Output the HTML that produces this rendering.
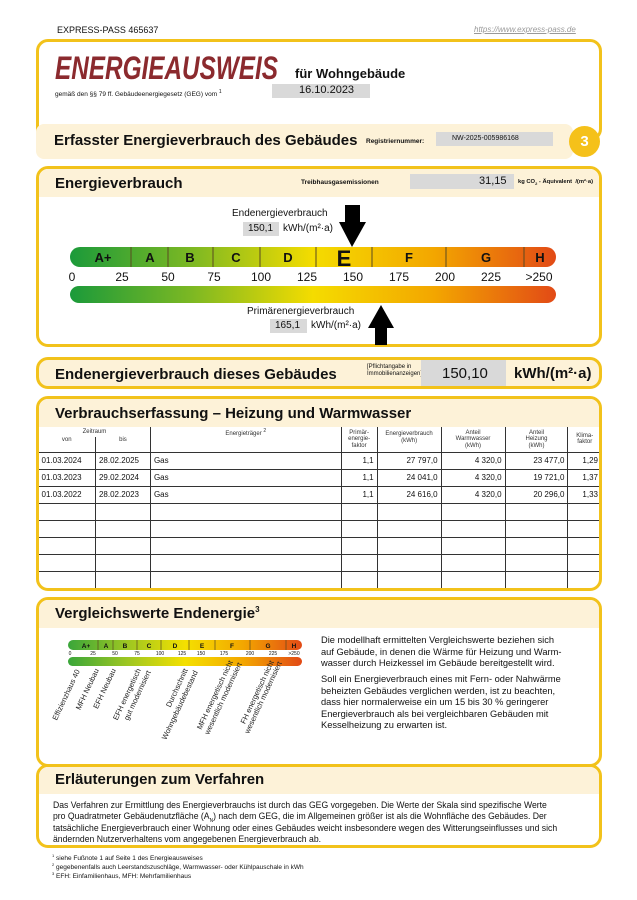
<!DOCTYPE html>
<html><head><meta charset="utf-8">
<style>
*{margin:0;padding:0;box-sizing:border-box}
body{width:637px;height:900px;background:#fff;position:relative;font-family:"Liberation Sans",Arial,sans-serif;color:#111;overflow:hidden}
.a{position:absolute;white-space:nowrap}
.box{position:absolute;border:3px solid #f2c21b;border-radius:12px;background:#fff;overflow:hidden}
.band{position:absolute;left:0;right:0;top:0;background:#fdf2d8}
.grey{position:absolute;background:#d9d9d9}
.h{font-weight:bold;font-size:15px}
sup,sub{line-height:0}
table{border-collapse:collapse;position:absolute;left:0;font-size:8px}
td{border:1px solid #333;padding:0 3px}
</style></head><body>
<div class="a" style="left:57px;top:25px;font-size:9px">EXPRESS-PASS 465637</div>
<div class="a" style="left:474px;top:25px;font-size:8px;color:#999;font-style:italic;text-decoration:underline">https://www.express-pass.de</div>

<div class="box" style="left:36px;top:39px;width:566px;height:102px">
 <div class="a" style="left:16px;top:8px;font-size:32px;font-weight:bold;font-style:italic;color:#8b2a2e;transform:scaleX(0.76);transform-origin:0 0">ENERGIEAUSWEIS</div>
 <div class="a" style="left:256px;top:24px;font-size:13px;font-weight:bold">für Wohngebäude</div>
 <div class="a" style="left:16px;top:49px;font-size:6.5px">gemäß den §§ 79 ff. Gebäudeenergiegesetz (GEG) vom <sup style="font-size:5px">1</sup></div>
 <div class="grey" style="left:233px;top:42px;width:98px;height:14px"></div>
 <div class="a" style="left:260px;top:42px;font-size:11px">16.10.2023</div>
</div>

<div class="a" style="left:36px;top:124px;width:537px;height:35px;background:#fdf2d8;border-radius:8px"></div>
<div class="a h" style="left:54px;top:132px;font-size:15px">Erfasster Energieverbrauch des Gebäudes</div>
<div class="a" style="left:366px;top:138px;font-size:6.5px;font-weight:bold">Registriernummer:</div>
<div class="grey" style="left:436px;top:132px;width:117px;height:14px"></div>
<div class="a" style="left:452px;top:135px;font-size:7px">NW-2025-005986168</div>
<div class="a" style="left:569px;top:126px;width:31px;height:31px;border-radius:50%;background:#f5c11a;color:#fff;font-weight:bold;font-size:15px;text-align:center;line-height:31px">3</div>

<div class="box" style="left:36px;top:166px;width:566px;height:181px">
 <div class="band" style="height:28px"></div>
 <div class="a h" style="left:16px;top:6px;font-size:15px">Energieverbrauch</div>
 <div class="a" style="left:262px;top:10px;font-size:6.5px;font-weight:bold">Treibhausgasemissionen</div>
 <div class="grey" style="left:371px;top:5px;width:104px;height:15px"></div>
 <div class="a" style="left:440px;top:6px;font-size:11px">31,15</div>
 <div class="a" style="left:479px;top:10px;font-size:5.8px;font-weight:bold">kg CO<sub style="font-size:4px">2</sub> - Äquivalent &nbsp;/(m²·a)</div>
</div>
<svg class="a" style="left:0;top:0" width="637" height="360">
<defs>
<linearGradient id="g" x1="0" x2="1">
<stop offset="0" stop-color="#1b9a3a"/><stop offset="0.25" stop-color="#7cb823"/><stop offset="0.5" stop-color="#f4dc00"/><stop offset="0.75" stop-color="#f3a600"/><stop offset="1" stop-color="#e24a16"/>
</linearGradient>
</defs>
<rect x="70" y="247" width="486" height="20" rx="10" fill="url(#g)"/>
<rect x="70" y="286" width="486" height="17" rx="9" fill="url(#g)"/>
<g stroke="#5a4a20" stroke-width="1">
<line x1="131" y1="247" x2="131" y2="267"/><line x1="168" y1="247" x2="168" y2="267"/><line x1="213" y1="247" x2="213" y2="267"/><line x1="260" y1="247" x2="260" y2="267"/><line x1="316" y1="247" x2="316" y2="267"/><line x1="372" y1="247" x2="372" y2="267"/><line x1="446" y1="247" x2="446" y2="267"/><line x1="524" y1="247" x2="524" y2="267"/>
</g>
<g font-family="Liberation Sans" font-weight="bold" font-size="13" text-anchor="middle" fill="#111">
<text x="103" y="262">A+</text><text x="150" y="262">A</text><text x="190" y="262">B</text><text x="236" y="262">C</text><text x="288" y="262">D</text><text x="344" y="266" font-size="22">E</text><text x="409" y="262">F</text><text x="486" y="262">G</text><text x="540" y="262">H</text>
</g>
<g font-family="Liberation Sans" font-size="12" text-anchor="middle" fill="#111">
<text x="72" y="281">0</text><text x="122" y="281">25</text><text x="168" y="281">50</text><text x="214" y="281">75</text><text x="261" y="281">100</text><text x="307" y="281">125</text><text x="353" y="281">150</text><text x="399" y="281">175</text><text x="445" y="281">200</text><text x="491" y="281">225</text><text x="539" y="281">&gt;250</text>
</g>
<polygon points="345,205 360,205 360,222 366,222 352,247 339,222 345,222" fill="#000"/>
<polygon points="381,305 394,328 387,328 387,345 375,345 375,328 368,328" fill="#000"/>
</svg>
<div class="a" style="left:232px;top:208px;font-size:10px">Endenergieverbrauch</div>
<div class="grey" style="left:243px;top:222px;width:36px;height:14px"></div>
<div class="a" style="left:248px;top:223px;font-size:10px">150,1</div>
<div class="a" style="left:283px;top:223px;font-size:10px">kWh/(m²·a)</div>
<div class="a" style="left:247px;top:306px;font-size:10px">Primärenergieverbrauch</div>
<div class="grey" style="left:270px;top:319px;width:37px;height:14px"></div>
<div class="a" style="left:275px;top:320px;font-size:10px">165,1</div>
<div class="a" style="left:311px;top:320px;font-size:10px">kWh/(m²·a)</div>

<div class="box" style="left:36px;top:357px;width:566px;height:32px;background:#fdf2d8">
 <div class="a h" style="left:16px;top:6px;font-size:15px">Endenergieverbrauch dieses Gebäudes</div>
 <div class="a" style="left:328px;top:4px;font-size:6px;line-height:7px">[Pflichtangabe in<br>Immobilienanzeigen]</div>
 <div class="grey" style="left:382px;top:0;width:85px;height:26px"></div>
 <div class="a" style="left:403px;top:5px;font-size:15px">150,10</div>
 <div class="a" style="left:475px;top:5px;font-size:15px;font-weight:bold">kWh/(m²·a)</div>
</div>

<div class="box" style="left:36px;top:396px;width:566px;height:195px">
 <div class="band" style="height:28px"></div>
 <div class="a h" style="left:16px;top:6px;font-size:15px">Verbrauchserfassung – Heizung und Warmwasser</div>
 <table style="top:28px;left:-1px;width:563px">
  <colgroup><col style="width:57px"><col style="width:55px"><col style="width:191px"><col style="width:36px"><col style="width:64px"><col style="width:64px"><col style="width:63px"><col style="width:33px"></colgroup>
  <tr style="height:10px;font-size:6px;color:#333;text-align:center"><td colspan="2" style="border-bottom:none;border-top:none">Zeitraum</td><td rowspan="2" style="vertical-align:top;border-top:none;padding-top:4px">Energieträger <sup>2</sup></td><td rowspan="2" style="line-height:6.5px;border-top:none">Primär-<br>energie-<br>faktor</td><td rowspan="2" style="line-height:6.5px;vertical-align:top;border-top:none;padding-top:4px">Energieverbrauch<br>(kWh)</td><td rowspan="2" style="line-height:6.5px;border-top:none">Anteil<br>Warmwasser<br>(kWh)</td><td rowspan="2" style="line-height:6.5px;border-top:none">Anteil<br>Heizung<br>(kWh)</td><td rowspan="2" style="line-height:6.5px;border-top:none;border-right:none">Klima-<br>faktor</td></tr>
  <tr style="height:15px;font-size:6px;color:#333;text-align:center;vertical-align:top"><td style="border-top:none;border-left:none">von</td><td style="border-top:none">bis</td></tr>
  <tr style="height:17px"><td style="border-left:none">01.03.2024</td><td>28.02.2025</td><td>Gas</td><td style="text-align:right">1,1</td><td style="text-align:right">27 797,0</td><td style="text-align:right">4 320,0</td><td style="text-align:right">23 477,0</td><td style="text-align:right;border-right:none">1,29</td></tr>
  <tr style="height:17px"><td style="border-left:none">01.03.2023</td><td>29.02.2024</td><td>Gas</td><td style="text-align:right">1,1</td><td style="text-align:right">24 041,0</td><td style="text-align:right">4 320,0</td><td style="text-align:right">19 721,0</td><td style="text-align:right;border-right:none">1,37</td></tr>
  <tr style="height:17px"><td style="border-left:none">01.03.2022</td><td>28.02.2023</td><td>Gas</td><td style="text-align:right">1,1</td><td style="text-align:right">24 616,0</td><td style="text-align:right">4 320,0</td><td style="text-align:right">20 296,0</td><td style="text-align:right;border-right:none">1,33</td></tr>
  <tr style="height:17px"><td style="border-left:none"></td><td></td><td></td><td></td><td></td><td></td><td></td><td style="border-right:none"></td></tr>
  <tr style="height:17px"><td style="border-left:none"></td><td></td><td></td><td></td><td></td><td></td><td></td><td style="border-right:none"></td></tr>
  <tr style="height:17px"><td style="border-left:none"></td><td></td><td></td><td></td><td></td><td></td><td></td><td style="border-right:none"></td></tr>
  <tr style="height:17px"><td style="border-left:none"></td><td></td><td></td><td></td><td></td><td></td><td></td><td style="border-right:none"></td></tr>
  <tr style="height:17px"><td style="border-left:none;border-bottom:none"></td><td style="border-bottom:none"></td><td style="border-bottom:none"></td><td style="border-bottom:none"></td><td style="border-bottom:none"></td><td style="border-bottom:none"></td><td style="border-bottom:none"></td><td style="border-right:none;border-bottom:none"></td></tr>
 </table>
</div>

<div class="box" style="left:36px;top:597px;width:566px;height:170px">
 <div class="band" style="height:28px"></div>
 <div class="a h" style="left:16px;top:5px;font-size:15px">Vergleichswerte Endenergie<sup style="font-size:8px">3</sup></div>
 <div class="a" style="left:282px;top:35px;font-size:9.3px;line-height:11.5px">Die modellhaft ermittelten Vergleichswerte beziehen sich<br>auf Gebäude, in denen die Wärme für Heizung und Warm-<br>wasser durch Heizkessel im Gebäude bereitgestellt wird.</div>
 <div class="a" style="left:282px;top:74px;font-size:9.3px;line-height:11.5px">Soll ein Energieverbrauch eines mit Fern- oder Nahwärme<br>beheizten Gebäudes verglichen werden, ist zu beachten,<br>dass hier normalerweise ein um 15 bis 30 % geringerer<br>Energieverbrauch als bei vergleichbaren Gebäuden mit<br>Kesselheizung zu erwarten ist.</div>
</div>
<svg class="a" style="left:0;top:630px" width="320" height="135">
<defs><linearGradient id="g2" x1="0" x2="1"><stop offset="0" stop-color="#3aa63a"/><stop offset="0.25" stop-color="#9cc622"/><stop offset="0.5" stop-color="#f4e000"/><stop offset="0.75" stop-color="#f3a600"/><stop offset="1" stop-color="#e24a16"/></linearGradient></defs>
<rect x="68" y="10" width="234" height="10" rx="5" fill="url(#g2)"/>
<rect x="68" y="27" width="234" height="9" rx="4.5" fill="url(#g2)"/>
<g stroke="#5a4a20" stroke-width="0.7"><line x1="98" y1="10" x2="98" y2="20"/><line x1="113" y1="10" x2="113" y2="20"/><line x1="137" y1="10" x2="137" y2="20"/><line x1="161" y1="10" x2="161" y2="20"/><line x1="189" y1="10" x2="189" y2="20"/><line x1="215" y1="10" x2="215" y2="20"/><line x1="250" y1="10" x2="250" y2="20"/><line x1="286" y1="10" x2="286" y2="20"/></g>
<g font-family="Liberation Sans" font-weight="bold" font-size="6.5" text-anchor="middle" fill="#111">
<text x="86" y="18">A+</text><text x="106" y="18">A</text><text x="125" y="18">B</text><text x="149" y="18">C</text><text x="175" y="18">D</text><text x="202" y="18">E</text><text x="232" y="18">F</text><text x="268" y="18">G</text><text x="294" y="18">H</text>
</g>
<g font-family="Liberation Sans" font-size="5" text-anchor="middle" fill="#111">
<text x="70" y="25">0</text><text x="93" y="25">25</text><text x="115" y="25">50</text><text x="137" y="25">75</text><text x="160" y="25">100</text><text x="182" y="25">125</text><text x="201" y="25">150</text><text x="224" y="25">175</text><text x="250" y="25">200</text><text x="273" y="25">225</text><text x="294" y="25">&gt;250</text>
</g>
<g font-family="Liberation Sans" font-size="7.5" text-anchor="end" fill="#222">
<text transform="translate(80,41) rotate(-65)">Effizienzhaus 40</text>
<text transform="translate(99,40) rotate(-65)">MFH Neubau</text>
<text transform="translate(116,40) rotate(-65)">EFH Neubau</text>
<text transform="translate(141,40) rotate(-65)">EFH energetisch</text>
<text transform="translate(151,42) rotate(-65)">gut modernisiert</text>
<text transform="translate(188,40) rotate(-65)">Durchschnitt</text>
<text transform="translate(198,42) rotate(-65)">Wohngebäudebestand</text>
<text transform="translate(233,32) rotate(-65)">MFH energetisch nicht</text>
<text transform="translate(242,34) rotate(-65)">wesentlich modernisiert</text>
<text transform="translate(274,32) rotate(-65)">FH energetisch nicht</text>
<text transform="translate(282,33) rotate(-65)">wesentlich modernisiert</text>
</g>
</svg>

<div class="box" style="left:36px;top:764px;width:566px;height:84px">
 <div class="band" style="height:27px"></div>
 <div class="a h" style="left:16px;top:4px;font-size:15px">Erläuterungen zum Verfahren</div>
 <div class="a" style="left:14px;top:33px;font-size:9px;line-height:11.3px;transform:scaleX(0.96);transform-origin:0 0">Das Verfahren zur Ermittlung des Energieverbrauchs ist durch das GEG vorgegeben. Die Werte der Skala sind spezifische Werte<br>pro Quadratmeter Gebäudenutzfläche (A<sub style="font-size:5px">N</sub>) nach dem GEG, die im Allgemeinen größer ist als die Wohnfläche des Gebäudes. Der<br>tatsächliche Energieverbrauch einer Wohnung oder eines Gebäudes weicht insbesondere wegen des Witterungseinflusses und sich<br>ändernden Nutzerverhaltens vom angegebenen Energieverbrauch ab.</div>
</div>
<div class="a" style="left:52px;top:854px;font-size:6.5px;line-height:9px"><sup style="font-size:4px">1</sup> siehe Fußnote 1 auf Seite 1 des Energieausweises<br><sup style="font-size:4px">2</sup> gegebenenfalls auch Leerstandszuschläge, Warmwasser- oder Kühlpauschale in kWh<br><sup style="font-size:4px">3</sup> EFH: Einfamilienhaus, MFH: Mehrfamilienhaus</div>
</body></html>
